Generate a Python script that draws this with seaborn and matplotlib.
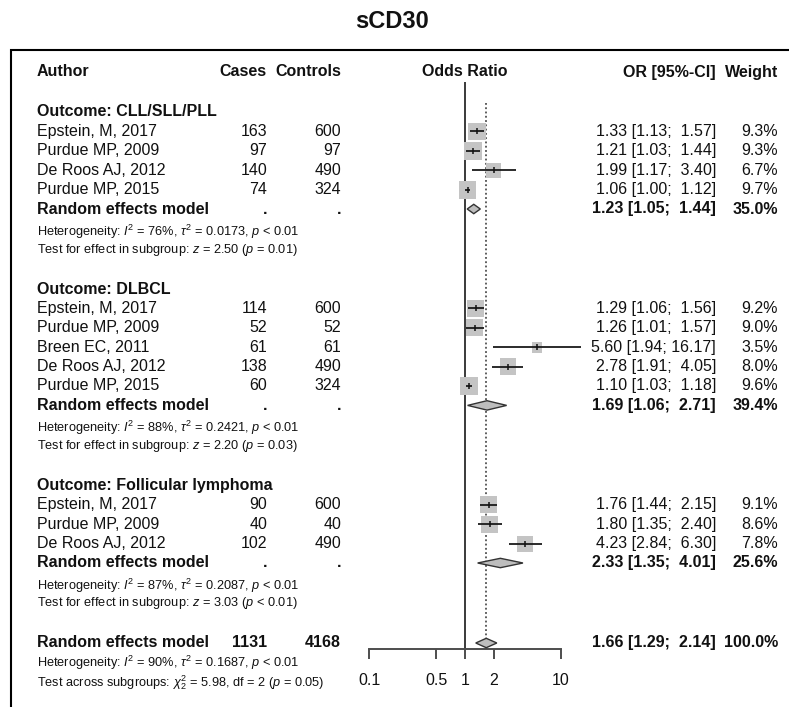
import matplotlib
matplotlib.use("Agg")
import matplotlib.pyplot as plt
import matplotlib.transforms as mtransforms
from matplotlib.patches import Rectangle
from matplotlib.ticker import NullLocator
import pandas as pd
import seaborn as sns

# study-level data
outcomes = ["CLL/SLL/PLL", "DLBCL", "Follicular lymphoma"]
authors = [
    "Epstein, M, 2017", "Purdue MP, 2009", "De Roos AJ, 2012", "Purdue MP, 2015",
    "Epstein, M, 2017", "Purdue MP, 2009", "Breen EC, 2011", "De Roos AJ, 2012", "Purdue MP, 2015",
    "Epstein, M, 2017", "Purdue MP, 2009", "De Roos AJ, 2012",
]
study_outcome = ["CLL/SLL/PLL"] * 4 + ["DLBCL"] * 5 + ["Follicular lymphoma"] * 3
cases = [163, 97, 140, 74, 114, 52, 61, 138, 60, 90, 40, 102]
controls = [600, 97, 490, 324, 600, 52, 61, 490, 324, 600, 40, 490]
odds = [1.33, 1.21, 1.99, 1.06, 1.29, 1.26, 5.60, 2.78, 1.10, 1.76, 1.80, 4.23]
lower = [1.13, 1.03, 1.17, 1.00, 1.06, 1.01, 1.94, 1.91, 1.03, 1.44, 1.35, 2.84]
upper = [1.57, 1.44, 3.40, 1.12, 1.56, 1.57, 16.17, 4.05, 1.18, 2.15, 2.40, 6.30]
weight = [9.3, 9.3, 6.7, 9.7, 9.2, 9.0, 3.5, 8.0, 9.6, 9.1, 8.6, 7.8]

# subgroup random effects summaries
sub_or = [1.23, 1.69, 2.33]
sub_lower = [1.05, 1.06, 1.35]
sub_upper = [1.44, 2.71, 4.01]
sub_weight = [35.0, 39.4, 25.6]
sub_i2 = ["76%", "88%", "87%"]
sub_tau2 = ["0.0173", "0.2421", "0.2087"]
sub_z = ["2.50", "2.20", "3.03"]
sub_p = ["= 0.01", "= 0.03", "< 0.01"]

# overall random effects model
total_cases = 1131
total_controls = 4168
overall_or, overall_lower, overall_upper = 1.66, 1.29, 2.14
overall_i2, overall_tau2 = "90%", "0.1687"
overall_chi2, overall_df, overall_p = "5.98", 2, "0.05"

W, H = 789, 707
FS = 11.5
FS_SMALL = 9.2
TXT = "#111111"

sns.set_theme(style="white")
plt.rcParams["font.family"] = ["Liberation Sans", "DejaVu Sans"]
plt.rcParams["mathtext.fontset"] = "custom"
plt.rcParams["mathtext.rm"] = "Liberation Sans"
plt.rcParams["mathtext.it"] = "Liberation Sans:italic"
plt.rcParams["mathtext.bf"] = "Liberation Sans:bold"

fig = plt.figure(figsize=(W / 100, H / 100), dpi=100)
fig.patch.set_facecolor("white")
# forest panel: 0.1 -> x=369, 10 -> x=561; y in pixels from top
ax = fig.add_axes([369.3 / W, 0, (561.0 - 369.3) / W, 1])
ax.patch.set_alpha(0)
T = mtransforms.blended_transform_factory(fig.transFigure, ax.transData)


def put(x, y, s, ha="left", bold=False, size=FS):
    ax.text(x / W, y, s, transform=T, ha=ha, va="center", fontsize=size,
            fontweight="bold" if bold else "normal", color=TXT)


def ci_text(o, lo, hi):
    return f"{o:.2f} [{lo:.2f}; {hi:5.2f}]"


# row layout
step = 19.4
header_y = 72
y = header_y
study_y, sub_y, label_y, het_y, test_y = [], [], [], [], []
for g in outcomes:
    y += 40
    label_y.append(y)
    for o in study_outcome:
        if o == g:
            y += step
            study_y.append(y)
    y += step
    sub_y.append(y)
    het_y.append(y + 22.5)
    test_y.append(y + 40.5)
    y += 40
overall_y = y + 40

df = pd.DataFrame({
    "author": authors, "outcome": study_outcome, "cases": cases, "controls": controls,
    "odds": odds, "lower": lower, "upper": upper, "weight": weight, "y": study_y,
})

# reference lines
ax.vlines(1, 81.7, 649.3, color="#3a3a3a", lw=1.4, zorder=1)
ax.vlines(overall_or, 103, overall_y - 5, color="#333333", lw=1.1,
          linestyles=(0, (1.2, 1.6)), zorder=1)

# squares sized by weight (area proportional to weight)
sns.scatterplot(data=df, x="odds", y="y", size="weight", sizes=(0, 165), size_norm=(0, 9.7),
                marker="s", color="#c4c4c4", edgecolor="none", linewidth=0,
                legend=False, ax=ax, zorder=2, clip_on=False)
ax.hlines(df["y"], df["lower"], df["upper"], color="#1a1a1a", lw=1.3, zorder=3, clip_on=False)
ax.scatter(df["odds"], df["y"], marker="|", s=25, color="#111111", lw=1.1, zorder=4, clip_on=False)

# diamonds
half = 4.7
for o, lo, hi, yy in zip(sub_or + [overall_or], sub_lower + [overall_lower],
                         sub_upper + [overall_upper], sub_y + [overall_y]):
    ax.fill([lo, o, hi, o], [yy, yy - half, yy, yy + half], facecolor="#bdbdbd",
            edgecolor="#333333", lw=1.0, zorder=3, clip_on=False)

# axis
ax.set_xscale("log")
ax.set_xlim(0.1, 10)
ax.set_ylim(H, 0)
ax.set_xlabel("")
ax.set_ylabel("")
ax.set_yticks([])
ax.set_xticks([0.1, 0.5, 1, 2, 10])
ax.set_xticklabels(["0.1", "0.5", "1", "2", "10"])
ax.xaxis.set_minor_locator(NullLocator())
for side in ["top", "left", "right"]:
    ax.spines[side].set_visible(False)
ax.spines["bottom"].set_position(("data", 649.3))
ax.spines["bottom"].set_bounds(0.1, 10)
ax.spines["bottom"].set_color("#4d4d4d")
ax.spines["bottom"].set_linewidth(1.4)
ax.tick_params(axis="x", direction="out", length=7, width=1.4, color="#4d4d4d",
               labelsize=FS, labelcolor=TXT, pad=10, bottom=True)

# header
put(37, header_y, "Author", bold=True)
put(267, header_y, "Cases", ha="right", bold=True)
put(341, header_y, "Controls", ha="right", bold=True)
put(465, header_y, "Odds Ratio", ha="center", bold=True)
put(716, header_y, "OR [95%-CI]", ha="right", bold=True)
put(778, header_y, "Weight", ha="right", bold=True)

# study rows
for _, r in df.iterrows():
    put(37, r["y"], r["author"])
    put(267, r["y"], str(r["cases"]), ha="right")
    put(341, r["y"], str(r["controls"]), ha="right")
    put(716, r["y"], ci_text(r["odds"], r["lower"], r["upper"]), ha="right")
    put(778, r["y"], f"{r['weight']:.1f}%", ha="right")

# subgroup rows
for i, g in enumerate(outcomes):
    put(37, label_y[i], f"Outcome: {g}", bold=True)
    put(37, sub_y[i], "Random effects model", bold=True)
    put(267, sub_y[i], ".", ha="right", bold=True)
    put(341, sub_y[i], ".", ha="right", bold=True)
    put(716, sub_y[i], ci_text(sub_or[i], sub_lower[i], sub_upper[i]), ha="right", bold=True)
    put(778, sub_y[i], f"{sub_weight[i]:.1f}%", ha="right", bold=True)
    put(37, het_y[i], rf"Heterogeneity: $I^{{2}}$ = {sub_i2[i]}, $\tau^{{2}}$ = {sub_tau2[i]}, $p$ < 0.01",
        size=FS_SMALL)
    put(37, test_y[i], rf"Test for effect in subgroup: $z$ = {sub_z[i]} ($p$ {sub_p[i]})", size=FS_SMALL)

# overall
put(37, overall_y, "Random effects model", bold=True)
put(267, overall_y, str(total_cases), ha="right", bold=True)
put(341, overall_y, str(total_controls), ha="right", bold=True)
put(716, overall_y, ci_text(overall_or, overall_lower, overall_upper), ha="right", bold=True)
put(778, overall_y, "100.0%", ha="right", bold=True)
put(37, overall_y + 20, rf"Heterogeneity: $I^{{2}}$ = {overall_i2}, $\tau^{{2}}$ = {overall_tau2}, $p$ < 0.01",
    size=FS_SMALL)
put(37, overall_y + 40,
    rf"Test across subgroups: $\chi^{{2}}_{{2}}$ = {overall_chi2}, df = {overall_df} ($p$ = {overall_p})",
    size=FS_SMALL)

# title and frame
fig.text(392 / W, 1 - 22 / H, "sCD30", ha="center", va="center", fontsize=17,
         fontweight="bold", color=TXT)
fig.add_artist(Rectangle((11 / W, -0.1), 1.0, 1 - 50 / H + 0.1, transform=fig.transFigure,
                         fill=False, lw=1.5, ec="black"))

fig.savefig("out.png", dpi=100)
